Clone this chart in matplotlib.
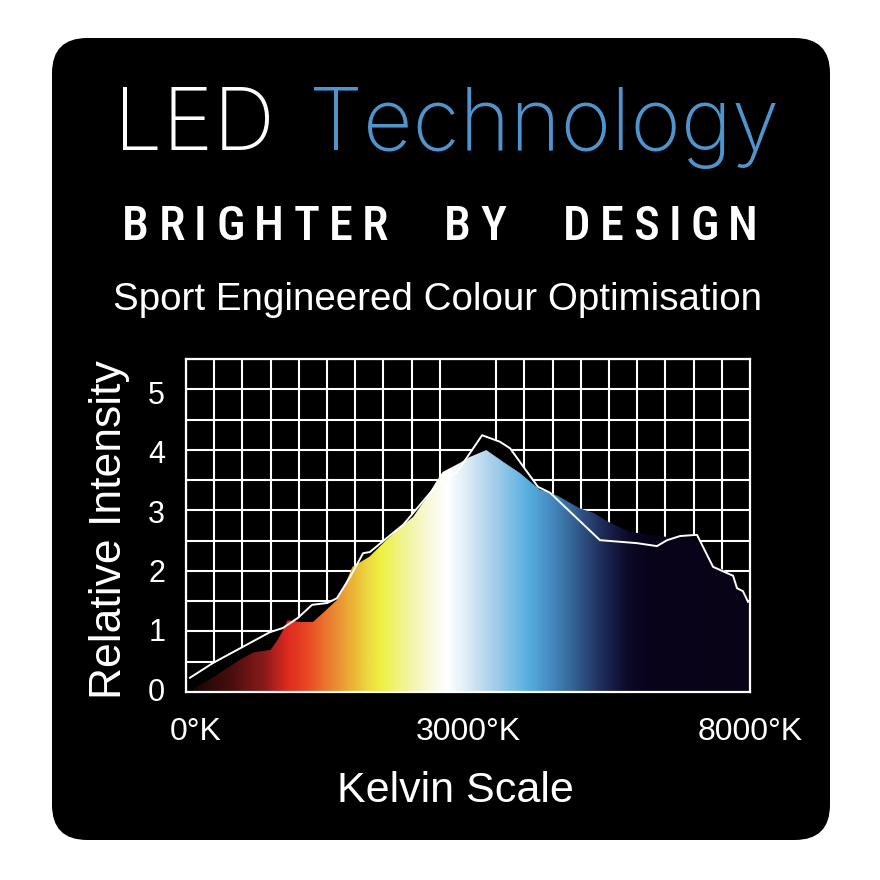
import matplotlib
matplotlib.use("Agg")
import matplotlib.pyplot as plt
import numpy as np
from matplotlib.colors import LinearSegmentedColormap
from matplotlib.patches import FancyBboxPatch

# spectrum outline: position on the Kelvin scale (grid columns, 0..20) and intensity
spectrum_pos = [0.25, 1.0, 1.9, 2.4, 3.0, 3.25, 3.45, 3.6, 4.05, 4.5, 4.85, 5.35, 5.6,
                5.9, 6.5, 7.1, 7.7, 8.05, 8.55, 8.9, 9.1, 9.7, 10.05, 10.65, 11.25,
                11.85, 12.55, 12.9, 13.25, 13.95, 14.45, 15.05, 15.75, 16.45, 17.15,
                17.85, 18.1, 18.6, 19.05, 19.4, 19.65, 19.95, 20.0]
spectrum_val = [0.0, 0.21, 0.49, 0.62, 0.66, 0.83, 1.0, 1.16, 1.13, 1.13, 1.28, 1.5, 1.72,
                2.06, 2.23, 2.51, 2.77, 2.9, 3.24, 3.52, 3.66, 3.81, 3.91, 4.03, 3.83,
                3.64, 3.36, 3.32, 3.24, 3.05, 2.97, 2.8, 2.65, 2.6, 2.56,
                2.56, 2.51, 2.12, 2.01, 1.89, 1.67, 1.47, 1.47]

# white reference curve
line_pos = [0.14, 0.96, 2.98, 3.44, 3.97, 4.47, 5.0, 5.35, 5.82, 6.28, 6.52, 7.13, 7.7,
            9.0, 9.6, 10.5, 11.13, 11.49, 12.48, 12.91, 14.68, 15.99, 16.7, 17.06,
            17.52, 18.12, 18.69, 19.4, 19.54, 19.75, 19.93]
line_val = [0.19, 0.44, 0.96, 1.03, 1.2, 1.42, 1.45, 1.53, 1.89, 2.29, 2.31, 2.55, 2.77,
            3.5, 3.65, 4.28, 4.17, 4.06, 3.41, 3.31, 2.51, 2.46, 2.41, 2.51,
            2.58, 2.6, 2.06, 1.91, 1.7, 1.65, 1.47]

y_ticks = [0, 1, 2, 3, 4, 5]
x_tick_pos = [0.35, 10.0, 20.0]
x_tick_labels = ["0°K", "3000°K", "8000°K"]

# colour stops of the spectrum, by scale position
colour_stops = [(0.0, "#1a0505"), (0.25, "#1a0505"), (1.56, "#4a0e0e"), (2.73, "#8a1a1a"),
                (3.58, "#e02a20"), (4.29, "#e84a25"), (5.0, "#ea7a30"), (5.71, "#eaa835"),
                (6.42, "#ecd840"), (6.88, "#eef040"), (7.84, "#f2f4a0"), (8.76, "#fafae8"),
                (9.26, "#ffffff"), (9.96, "#dcecf6"), (10.43, "#c0dcf0"), (11.13, "#98c8e8"),
                (12.09, "#58b0e0"), (12.8, "#4890c8"), (13.51, "#3a6ea0"), (14.22, "#2a4878"),
                (14.93, "#1a2450"), (15.64, "#0c0a28"), (16.35, "#08031a"), (20.0, "#0a0418")]

W = H = 880
BLUE = "#4f94cc"


def fx(px):
    return px / W


def fy(py):
    return 1 - py / H


fig = plt.figure(figsize=(8.8, 8.8), dpi=100, facecolor="white")

card = FancyBboxPatch((fx(52), fy(840)), fx(830) - fx(52), fy(38) - fy(840),
                      boxstyle="round,pad=0,rounding_size=0.04",
                      transform=fig.transFigure, facecolor="black", edgecolor="none",
                      zorder=-10)
fig.patches.append(card)

# title
fig.text(fx(114), fy(150), "LED", color="white", family="Inter", fontweight=200,
         fontsize=62, va="baseline", ha="left")
fig.text(fx(309), fy(150), "Technology", color=BLUE, family="Inter", fontweight=200,
         fontsize=62, va="baseline", ha="left")

# tracked tagline
fig.canvas.draw()
renderer = fig.canvas.get_renderer()
words = ["BRIGHTER", "BY", "DESIGN"]
tag_kw = dict(color="white", family="Roboto Condensed", fontweight=500, fontsize=35,
              va="baseline", ha="left")
letters = []
for w in words:
    row = []
    for ch in w:
        t = fig.text(0, fy(240), ch, **tag_kw)
        row.append((t, t.get_window_extent(renderer).width))
    letters.append(row)
left, right, word_gap = 122, 758, 56
n_gaps = sum(len(r) - 1 for r in letters)
total_w = sum(wd for r in letters for _, wd in r)
track = (right - left - total_w - word_gap * (len(words) - 1)) / n_gaps
x = left
for i, row in enumerate(letters):
    for j, (t, wd) in enumerate(row):
        t.set_x(fx(x))
        x += wd + (track if j < len(row) - 1 else 0)
    x += word_gap

fig.text(fx(437), fy(310), "Sport Engineered Colour Optimisation", color="white",
         family="Liberation Sans", fontsize=27.7, ha="center", va="baseline")

# chart
ax = fig.add_axes([fx(186), fy(692), fx(750) - fx(186), fy(359) - fy(692)])
ax.set_facecolor("black")
y_lo, y_hi = -0.05, 5.565
ax.set_xlim(0, 20)
ax.set_ylim(y_lo, y_hi)

ax.set_xticks(np.arange(0, 21), minor=True)
ax.set_yticks(np.linspace(y_lo, y_hi, 12), minor=True)
ax.grid(which="minor", color="white", lw=1.5, zorder=1)
ax.grid(which="major", visible=False)
ax.set_axisbelow(True)

ax.fill_between(line_pos, line_val, y_lo, color="black", lw=0, zorder=2)

cmap = LinearSegmentedColormap.from_list(
    "spec", [(p / 20.0, c) for p, c in colour_stops])
grad = np.linspace(0, 1, 800).reshape(1, -1)
img = ax.imshow(grad, cmap=cmap, aspect="auto", extent=(0, 20, y_lo, y_hi),
                origin="lower", zorder=3, interpolation="bilinear")
poly = ax.fill_between(spectrum_pos + [20.0], spectrum_val + [y_lo], y_lo,
                       color="none", lw=0, zorder=3)
img.set_clip_path(poly.get_paths()[0], transform=ax.transData)

ax.plot(line_pos, line_val, color="white", lw=1.4, zorder=4)

for s in ax.spines.values():
    s.set_color("white")
    s.set_linewidth(1.6)
    s.set_zorder(5)

ax.set_yticks(y_ticks)
ax.set_yticklabels([str(v) for v in y_ticks])
ax.set_xticks(x_tick_pos)
ax.set_xticklabels(x_tick_labels)
ax.tick_params(which="both", length=0)
ax.tick_params(axis="y", pad=15, labelsize=22, labelcolor="white")
ax.tick_params(axis="x", pad=18, labelsize=23, labelcolor="white")
for lab in ax.get_xticklabels() + ax.get_yticklabels():
    lab.set_family("Liberation Sans")

fig.text(fx(110), fy(530), "Relative Intensity", color="white", family="Liberation Sans",
         fontsize=32, rotation=90, ha="center", va="center")
fig.text(fx(455), fy(802), "Kelvin Scale", color="white", family="Liberation Sans",
         fontsize=31, ha="center", va="baseline")

fig.savefig("out.png", dpi=100, facecolor="white")
